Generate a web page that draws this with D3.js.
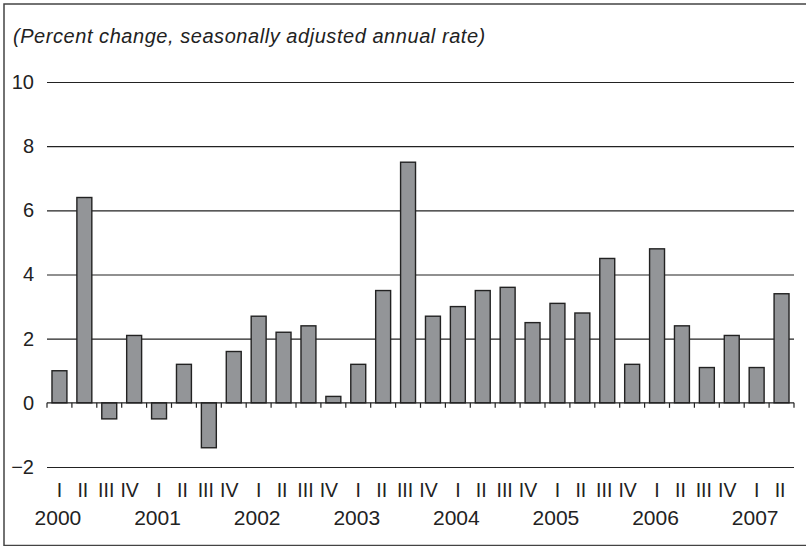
<!DOCTYPE html>
<html>
<head>
<meta charset="utf-8">
<script src="https://cdn.jsdelivr.net/npm/d3@7"></script>
<style>
  html, body { margin: 0; padding: 0; background: #fff; }
  svg { display: block; font-family: "Liberation Sans", Arial, Helvetica, sans-serif; }
</style>
</head>
<body>
<svg id="chart" width="806" height="546"></svg>
<script>
// ---- Data ----
const years = ["2000", "2001", "2002", "2003", "2004", "2005", "2006", "2007"];
const quarterLabels = ["I", "II", "III", "IV"];
const values = [
  1.0, 6.4, -0.5, 2.1,   // 2000
  -0.5, 1.2, -1.4, 1.6,  // 2001
  2.7, 2.2, 2.4, 0.2,    // 2002
  1.2, 3.5, 7.5, 2.7,    // 2003
  3.0, 3.5, 3.6, 2.5,    // 2004
  3.1, 2.8, 4.5, 1.2,    // 2005
  4.8, 2.4, 1.1, 2.1,    // 2006
  1.1, 3.4               // 2007
];
const yTicks = [-2, 0, 2, 4, 6, 8, 10];
const title = "(Percent change, seasonally adjusted annual rate)";

const data = values.map((v, i) => ({
  i, value: v,
  year: years[Math.floor(i / 4)],
  q: quarterLabels[i % 4]
}));

// ---- Layout ----
const svg = d3.select("#chart");
const mLeft = 47, mRight = 794, mTop = 82, mBottom = 467;

const x = d3.scaleBand().domain(data.map(d => d.i)).range([mLeft, mRight]).padding(0);
const y = d3.scaleLinear().domain([-2, 10]).range([mBottom, mTop]);
const barW = x.bandwidth() * 0.6;

// frame
svg.append("rect")
  .attr("x", 4).attr("y", 4).attr("width", 830).attr("height", 541.5)
  .attr("fill", "none").attr("stroke", "#444").attr("stroke-width", 1.5);

// title
svg.append("text")
  .attr("x", 13).attr("y", 43)
  .attr("font-size", 20).attr("letter-spacing", 0.55)
  .attr("font-style", "italic").attr("fill", "#222")
  .text(title);

// gridlines + y labels (axis)
const yAxis = d3.axisLeft(y).tickValues(yTicks)
  .tickSize(-(mRight - mLeft)).tickPadding(13)
  .tickFormat(d => d < 0 ? "\u2212" + Math.abs(d) : d);
const gy = svg.append("g").attr("transform", `translate(${mLeft},0)`).call(yAxis);
gy.select(".domain").remove();
gy.selectAll(".tick line").attr("stroke", "#222").attr("stroke-width", 1.2)
  .attr("display", d => d === 0 ? "none" : null);
gy.selectAll(".tick text").attr("font-size", 20).attr("fill", "#222")
  .attr("font-family", "'Liberation Sans', Arial, sans-serif");

// bars
svg.append("g").selectAll("rect").data(data).join("rect")
  .attr("x", d => x(d.i) + (x.bandwidth() - barW) / 2)
  .attr("width", barW)
  .attr("y", d => y(Math.max(0, d.value)))
  .attr("height", d => Math.abs(y(d.value) - y(0)))
  .attr("fill", "#939598")
  .attr("stroke", "#222")
  .attr("stroke-width", 1.4);

// zero line with ticks at band boundaries
const boundaries = d3.range(values.length + 1).map(k => mLeft + k * x.step());
svg.append("line")
  .attr("x1", mLeft).attr("x2", mRight)
  .attr("y1", y(0)).attr("y2", y(0))
  .attr("stroke", "#222").attr("stroke-width", 1.3);
svg.append("g").selectAll("line").data(boundaries).join("line")
  .attr("x1", d => d).attr("x2", d => d)
  .attr("y1", y(0)).attr("y2", y(0) + 5)
  .attr("stroke", "#222").attr("stroke-width", 1.2);

// quarter labels
const qdx = [0, -1.5, -3, -4.5];
svg.append("g").selectAll("text").data(data).join("text")
  .attr("x", d => x(d.i) + x.bandwidth() / 2 + qdx[d.i % 4])
  .attr("y", 497)
  .attr("text-anchor", "middle")
  .attr("font-size", 19.5).attr("fill", "#222")
  .text(d => d.q);

// year labels under Q1
svg.append("g").selectAll("text").data(data.filter(d => d.q === "I")).join("text")
  .attr("x", d => x(d.i) + x.bandwidth() / 2 - 1.5)
  .attr("y", 525)
  .attr("text-anchor", "middle")
  .attr("font-size", 21).attr("fill", "#222")
  .text(d => d.year);
</script>
</body>
</html>
